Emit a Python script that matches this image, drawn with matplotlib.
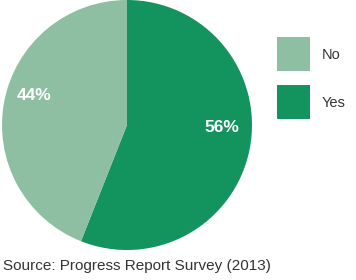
import matplotlib.pyplot as plt

labels = ['Yes', 'No']
values = [56, 44]
colors = ['#13945f', '#8fbfa3']
source = 'Source: Progress Report Survey (2013)'

plt.rcParams['font.family'] = ['Liberation Sans', 'DejaVu Sans']

fig = plt.figure(figsize=(3.56, 2.80), dpi=100)
ax = fig.add_axes([2 / 356, 30 / 280, 250 / 356, 250 / 280])

wedges, texts, autotexts = ax.pie(values, colors=colors, startangle=90, counterclock=False,
                                  autopct='%d%%', pctdistance=0.77,
                                  textprops=dict(color='white', fontsize=12.5, fontweight='bold'),
                                  wedgeprops=dict(linewidth=0))
ax.set_aspect('equal')
ax.set_xlim(-1, 1)
ax.set_ylim(-1, 1)

# nudge the labels to where they sit in the original
autotexts[0].set_position((0.76, -0.02))
autotexts[1].set_position((-0.74, 0.24))

# legend as patches on the right, No first
lax = fig.add_axes([0, 0, 1, 1])
lax.axis('off')
lax.set_xlim(0, 356)
lax.set_ylim(280, 0)
for i, (lab, col) in enumerate(zip(labels[::-1], colors[::-1])):
    y0 = 37 + i * 48
    lax.add_patch(plt.Rectangle((277, y0), 33, 34, color=col, lw=0))
    lax.text(322, y0 + 18, lab, fontsize=10.5, color='#333333', va='center', ha='left')

fig.text(3 / 356, 1 - 266 / 280, source, fontsize=11, color='#333333', va='center', ha='left')

fig.savefig('out.png', dpi=100)
